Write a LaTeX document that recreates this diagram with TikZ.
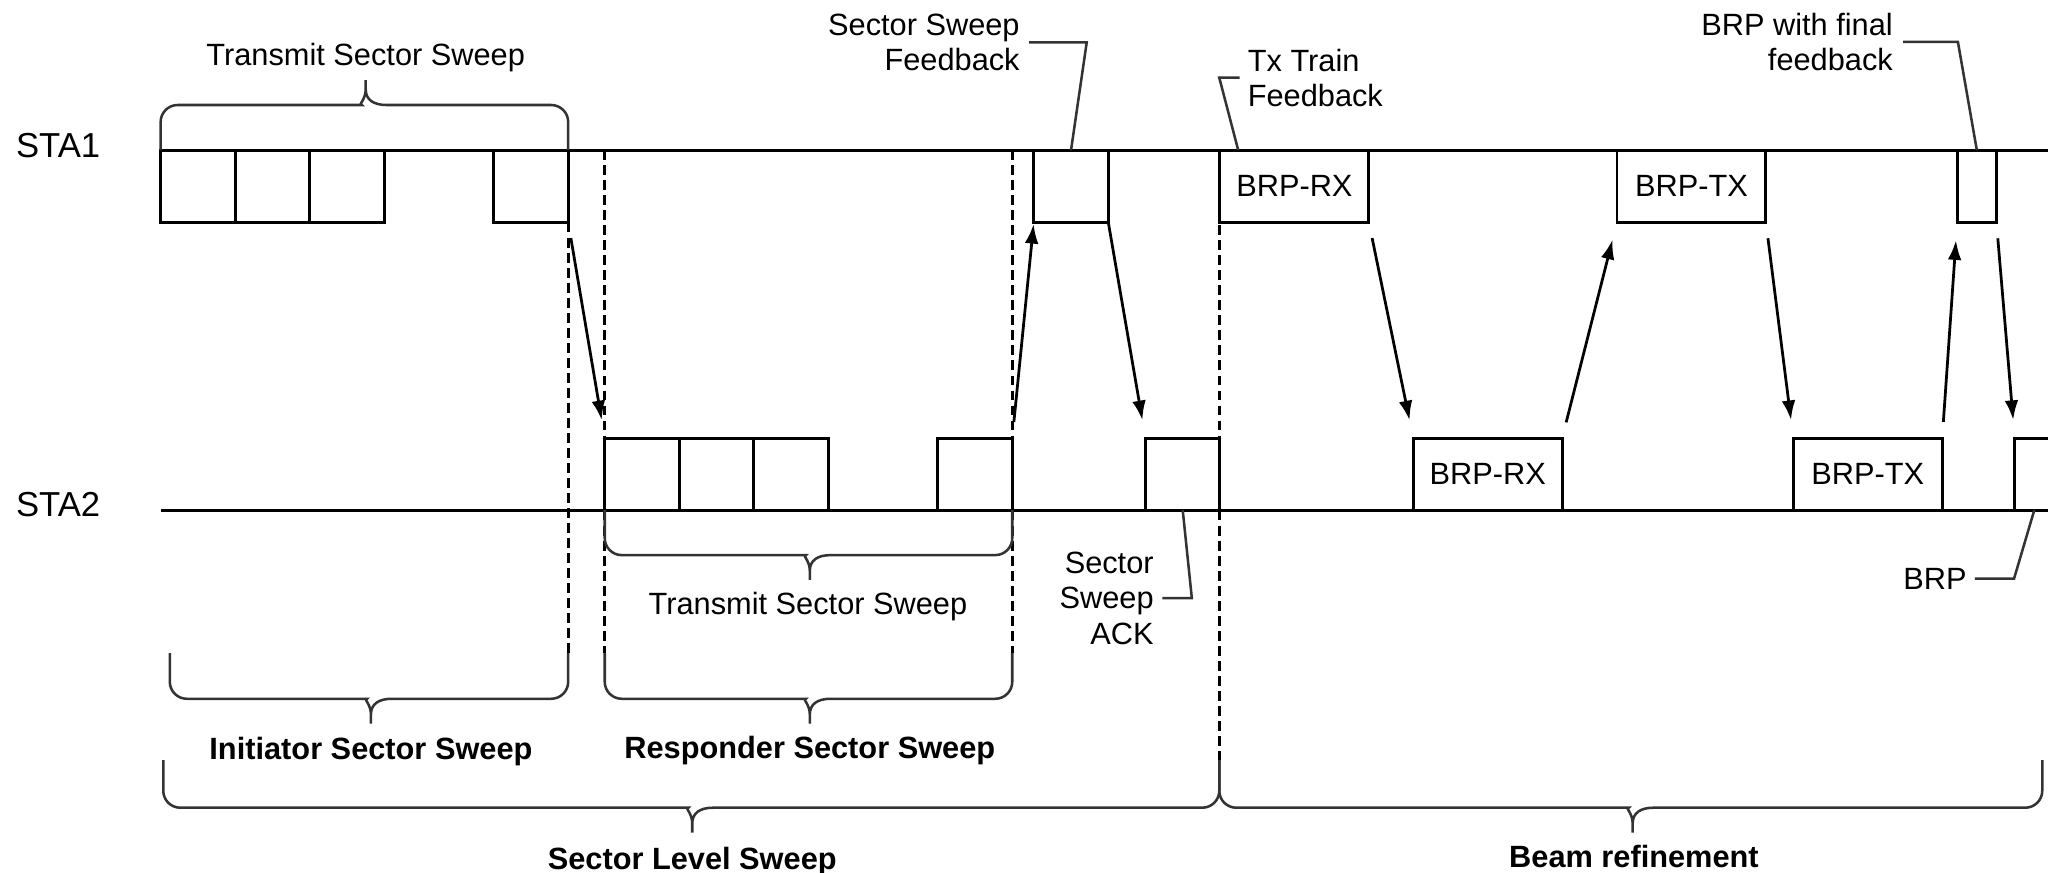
\documentclass[tikz,border=0pt]{standalone}
\usepackage{fontspec}
\setmainfont{Liberation Sans}
\usetikzlibrary{positioning, arrows.meta, calc}

\begin{document}
\begin{tikzpicture}[x=0.2mm, y=-0.2mm, >={Latex[length=3mm,width=2.1mm]},
		font=\fontsize{13.4pt}{15.4pt}\selectfont,
		slot/.style={draw, line width=1.3pt, outer sep=0pt, inner sep=0pt, minimum width=11.4mm, minimum height=11mm},
		wideslot/.style={slot, minimum width=22.8mm},
		smallslot/.style={slot, minimum width=6mm},
		msg/.style={->, line width=1.2pt, shorten <=2.5mm, shorten >=2.8mm},
		guide/.style={line width=1.2pt, dash pattern=on 1.5mm off 0.8mm},
		leader/.style={black!80, line width=1.1pt},
		brace/.style={black!80, line width=1.1pt},
		lbl/.style={inner sep=0pt, text depth=0pt},
		phase/.style={lbl, font=\fontsize{13.4pt}{15.4pt}\selectfont\bfseries}]
				\useasboundingbox (0,0) rectangle (1568,668);
				\clip (0,0) rectangle (1568,668);
				% Hilfslinien
				\draw[guide] (435,170.5) -- (435,500);
				\draw[guide] (463,115) -- (463,500);
				\draw[guide] (775,115) -- (775,500);
				\draw[guide] (933.5,115) -- (933.5,582);
				% Stationen
				\node[lbl, anchor=west, font=\fontsize{15.1pt}{17pt}\selectfont] (sta1) at (12,111.5) {STA1};
				\node[lbl, anchor=west, font=\fontsize{15.1pt}{17pt}\selectfont] (sta2) at (12,386) {STA2};
				\draw[line width=1.3pt] (123,115) -- (1568,115);
				\draw[line width=1.3pt] (123,390.5) -- (1568,390.5);
				% Rahmen STA1
				\node[slot, anchor=north west] (i1) at (123,115) {};
				\node[slot, right=0pt of i1] (i2) {};
				\node[slot, right=0pt of i2] (i3) {};
				\node[slot, anchor=north west] (i4) at (378,115) {};
				\node[slot, anchor=north west] (fb) at (791.5,115) {};
				\node[wideslot, anchor=north west] (brx1) at (934,115) {BRP-RX};
				\node[wideslot, anchor=north west] (btx1) at (1238,115) {BRP-TX};
				\node[smallslot, anchor=north west] (fin) at (1498.5,115) {};
				% Rahmen STA2
				\node[slot, anchor=south west] (r1) at (463,390.5) {};
				\node[slot, right=0pt of r1] (r2) {};
				\node[slot, right=0pt of r2] (r3) {};
				\node[slot, anchor=south west] (r4) at (718,390.5) {};
				\node[slot, anchor=south west] (ack) at (877,390.5) {};
				\node[wideslot, anchor=south west] (brx2) at (1082,390.5) {BRP-RX};
				\node[wideslot, anchor=south west] (btx2) at (1373,390.5) {BRP-TX};
				\node[smallslot, anchor=south west] (brp) at (1542.5,390.5) {};
				% Pfeile
				\draw[msg] (i4.south east) -- (r1.north west);
				\draw[msg, shorten >=0.3mm] (r4.north east) -- (fb.south west);
				\draw[msg, shorten <=0pt] (fb.south east) -- (ack.north west);
				\draw[msg] (brx1.south east) -- (brx2.north west);
				\draw[msg] (brx2.north east) -- (btx1.south west);
				\draw[msg] (btx1.south east) -- (btx2.north west);
				\draw[msg] (btx2.north east) -- (fin.south west);
				\draw[msg] (fin.south east) -- (brp.north west);
				% Klammern
				\foreach \xa/\xb/\ya/\yb/\xm/\dir in {123/435/115/80.4/280/-1, 463/775/390.5/425/620/1,
						130/435/500/535/284/1, 463/775/500/535/620/1, 125/933.5/582/618.4/530/1, 933.5/1563.6/582/618.4/1250/1}
					\draw[brace] (\xa,\ya) [rounded corners=2.6mm] -- (\xa,\yb) -- (\xm-16,\yb) [sharp corners]
						.. controls (\xm-6,\yb) and (\xm,\yb+\dir*4) .. (\xm,\yb+\dir*12) -- (\xm,\yb+\dir*19)
						(\xm,\yb+\dir*12) .. controls (\xm,\yb+\dir*4) and (\xm+6,\yb) .. (\xm+16,\yb)
						[rounded corners=2.6mm] -- (\xb,\yb) -- (\xb,\ya);
				% Beschriftung
				\node[lbl] (tss1) at (280,42) {Transmit Sector Sweep};
				\node[lbl] (tss2) at (618.6,462) {Transmit Sector Sweep};
				\node[phase] (iss) at (284,573) {Initiator Sector Sweep};
				\node[phase] (rss) at (620,572) {Responder Sector Sweep};
				\node[phase] (sls) at (530,657) {Sector Level Sweep};
				\node[phase] (bref) at (1251,656) {Beam refinement};
				\node[lbl, anchor=east, align=right] (fblbl) at (781,32.5) {Sector Sweep\\Feedback};
				\node[lbl, anchor=west, align=left] (txlbl) at (955,59.5) {Tx Train\\Feedback};
				\node[lbl, anchor=east, align=right] (finlbl) at (1449.5,32) {BRP with final\\feedback};
				\node[lbl, anchor=east, align=right] (acklbl) at (883.6,458) {Sector\\Sweep\\ACK};
				\node[lbl, anchor=east] (brplbl) at (1506,443) {BRP};
				% Hinweislinien
				\draw[leader] (fblbl.east) ++(7,0) -- ++(44,0) -- (fb.north);
				\draw[leader] (txlbl.west) ++(-6,0) -- ++(-15.5,0) -- ($(brx1.north west)+(14,0)$);
				\draw[leader] (finlbl.east) ++(7.5,0) -- ++(42,0) -- (fin.north);
				\draw[leader] (acklbl.east) ++(6.4,0) -- ++(22.5,0) -- (ack.south);
				\draw[leader] (brplbl.east) ++(6,0) -- ++(30,0) -- (brp.south);
			\end{tikzpicture}
\end{document}
